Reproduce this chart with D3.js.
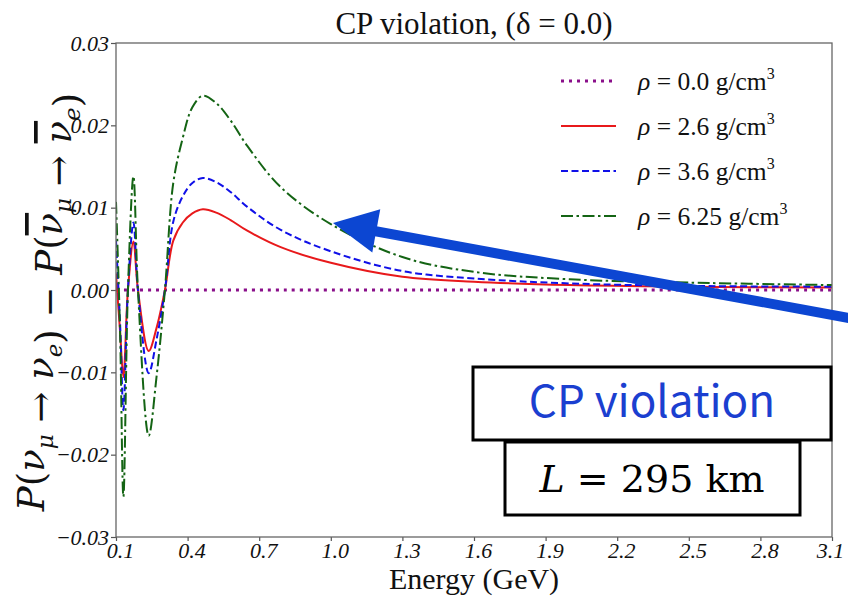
<!DOCTYPE html>
<html>
<head>
<meta charset="utf-8">
<script src="https://cdn.jsdelivr.net/npm/d3@7"></script>
<style>
  body { margin: 0; background: #fff; }
  svg { display: block; }
  .tick text { font-family: "Liberation Serif", serif; font-style: italic; }
</style>
</head>
<body>
<div id="chart"></div>
<script>
const energy = [0.1, 0.117, 0.131, 0.150, 0.173, 0.192, 0.237, 0.27, 0.305, 0.34, 0.38, 0.42, 0.464,
                0.52, 0.58, 0.65, 0.79, 1.0, 1.3, 1.6, 2.0, 2.5, 3.1]

const rho0  = energy.map(() => 0)
const rho26 = [0.0020, -0.0050, -0.0106, 0.0, 0.0059, 0.0, -0.0074, -0.0046, 0.0, 0.0060, 0.0082, 0.0093, 0.0098,
               0.0094, 0.0085, 0.0072, 0.0052, 0.0033, 0.0016, 0.0010, 0.0006, 0.0004, 0.0003]
const rho36 = [0.0060, -0.0040, -0.0146, 0.0, 0.0082, 0.0, -0.0101, -0.0060, 0.0, 0.0083, 0.0114, 0.0130, 0.0136,
               0.0131, 0.0119, 0.0101, 0.0073, 0.0047, 0.0023, 0.0014, 0.0008, 0.0005, 0.0004]
const rho625 = [0.0107, -0.0050, -0.0251, 0.0, 0.0138, 0.0, -0.0177, -0.0105, 0.0, 0.0130, 0.0185, 0.0222, 0.0236,
                0.0227, 0.0206, 0.0175, 0.0125, 0.0080, 0.0040, 0.0022, 0.0013, 0.0009, 0.0006]

const seriesLabels = ["0.0", "2.6", "3.6", "6.25"]
const xTicks = [0.1, 0.4, 0.7, 1.0, 1.3, 1.6, 1.9, 2.2, 2.5, 2.8, 3.1]
const yTicks = [-0.03, -0.02, -0.01, 0.0, 0.01, 0.02, 0.03]

const series = [
    {label: seriesLabels[0], values: rho0,   color: "#8a0f8a", dash: "3,5",            width: 3},
    {label: seriesLabels[1], values: rho26,  color: "#e8191b", dash: null,             width: 2},
    {label: seriesLabels[2], values: rho36,  color: "#1010e8", dash: "7,3.5",          width: 2},
    {label: seriesLabels[3], values: rho625, color: "#146414", dash: "12,3.5,2.5,3.5", width: 2}
]

const W = 848, H = 600
const margin = {top: 43, right: 16, bottom: 63, left: 116}
const width = W - margin.left - margin.right
const height = H - margin.top - margin.bottom

const xScale = d3.scaleLinear().domain([0.1, 3.1]).range([0, width])
const yScale = d3.scaleLinear().domain([-0.03, 0.03]).range([height, 0])

const root = d3.select("#chart").append("svg")
    .attr("width", W)
    .attr("height", H)

const svg = root.append("g")
    .attr("transform", `translate(${margin.left}, ${margin.top})`)

svg.append("defs").append("clipPath")
    .attr("id", "clip")
    .append("rect")
        .attr("width", width)
        .attr("height", height)

// axes
const xAxis = svg.append("g")
    .attr("transform", `translate(0, ${height})`)
    .call(d3.axisBottom(xScale).tickValues(xTicks).tickSize(4).tickPadding(1).tickFormat(d3.format(".1f")))

const yAxis = svg.append("g")
    .call(d3.axisLeft(yScale).tickValues(yTicks).tickSize(5).tickPadding(2).tickFormat(d3.format(".2f")))

xAxis.selectAll("text").attr("font-size", 22).attr("fill", "#111").attr("dx", (d, i) => i === xTicks.length - 1 ? -2 : 4)
yAxis.selectAll("text").attr("font-size", 22).attr("fill", "#111")
svg.selectAll(".domain").remove()
svg.selectAll(".tick line").attr("stroke", "#555").attr("stroke-width", 1.2)

// curves
const line = d3.line()
    .x((d, i) => xScale(energy[i]))
    .y(d => yScale(d))
    .curve(d3.curveCatmullRom.alpha(0.5))

svg.append("g")
    .attr("clip-path", "url(#clip)")
    .selectAll("path")
    .data(series)
    .join("path")
        .attr("fill", "none")
        .attr("stroke", d => d.color)
        .attr("stroke-width", d => d.width)
        .attr("stroke-dasharray", d => d.dash)
        .attr("d", d => line(d.values))

// frame
svg.append("rect")
    .attr("width", width)
    .attr("height", height)
    .attr("fill", "none")
    .attr("stroke", "#666")
    .attr("stroke-width", 1.3)

// legend
const legend = svg.append("g")
    .attr("transform", `translate(${561 - margin.left}, ${81 - margin.top})`)

const rows = legend.selectAll("g")
    .data(series)
    .join("g")
        .attr("transform", (d, i) => `translate(0, ${i * 45})`)

rows.append("line")
    .attr("x1", 0).attr("x2", 55)
    .attr("stroke", d => d.color)
    .attr("stroke-width", d => d.width)
    .attr("stroke-dasharray", d => d.dash)

const lt = rows.append("text")
    .attr("x", 77)
    .attr("y", 9)
    .attr("font-family", "Liberation Serif, serif")
    .attr("font-size", 25.5)
    .attr("fill", "#111")
lt.append("tspan").attr("font-style", "italic").text("ρ")
lt.append("tspan").text(d => ` = ${d.label} g/cm`)
lt.append("tspan").attr("font-size", 16).attr("dy", -11).text("3")

// title and axis labels
root.append("text")
    .attr("x", margin.left + width / 2)
    .attr("y", 34)
    .attr("text-anchor", "middle")
    .attr("font-family", "Liberation Serif, serif")
    .attr("font-size", 31)
    .attr("fill", "#111")
    .text("CP violation,  (δ = 0.0)")

root.append("text")
    .attr("x", margin.left + width / 2)
    .attr("y", 589)
    .attr("text-anchor", "middle")
    .attr("font-family", "Liberation Serif, serif")
    .attr("font-size", 30)
    .attr("fill", "#111")
    .text("Energy (GeV)")

const yl = root.append("text")
    .attr("transform", `translate(44, ${margin.top + height / 2 + 12}) rotate(-90)`)
    .attr("text-anchor", "middle")
    .attr("font-family", "DejaVu Serif, serif")
    .attr("font-size", 37)
    .attr("fill", "#111")
const part = (t, italic, bar) => yl.append("tspan")
    .attr("font-style", italic ? "italic" : null)
    .style("text-decoration", bar ? "overline" : null)
    .text(t)
const sub = t => { yl.append("tspan").attr("font-size", 23).attr("dy", 9).attr("font-style", "italic").text(t); yl.append("tspan").attr("dy", -9).text("") }
part("P", true); part("(", false); part("ν", true); sub("μ"); part(" → ", false); part("ν", true); sub("e")
part(") − ", false); part("P", true); part("(", false); part("ν", true, true); sub("μ"); part(" → ", false)
part("ν", true, true); sub("e"); part(")", false)

// annotation arrow
const blue = "#0c46d2"
const tip = [333, 223], tail = [860, 320]
const ang = Math.atan2(tail[1] - tip[1], tail[0] - tip[0])
const headLen = 44, headW = 22
const bx = tip[0] + headLen * Math.cos(ang), by = tip[1] + headLen * Math.sin(ang)
root.append("line")
    .attr("x1", bx - 2).attr("y1", by)
    .attr("x2", tail[0]).attr("y2", tail[1])
    .attr("stroke", blue)
    .attr("stroke-width", 10)
root.append("path")
    .attr("d", `M${tip[0]},${tip[1]} L${bx - headW * Math.sin(ang)},${by + headW * Math.cos(ang)} L${bx + headW * Math.sin(ang)},${by - headW * Math.cos(ang)} Z`)
    .attr("fill", blue)

// text boxes
root.append("rect")
    .attr("x", 473).attr("y", 367).attr("width", 358).attr("height", 73)
    .attr("fill", "#fff").attr("stroke", "#000").attr("stroke-width", 3)
root.append("text")
    .attr("x", 652).attr("y", 417)
    .attr("text-anchor", "middle")
    .attr("font-family", "Noto Sans CJK JP, Noto Sans, sans-serif")
    .attr("font-size", 44)
    .attr("fill", "#1b3fd0")
    .text("CP violation")

root.append("rect")
    .attr("x", 505).attr("y", 442).attr("width", 295).attr("height", 73)
    .attr("fill", "#fff").attr("stroke", "#000").attr("stroke-width", 3)
const lk = root.append("text")
    .attr("x", 652).attr("y", 492)
    .attr("text-anchor", "middle")
    .attr("font-family", "DejaVu Serif, serif")
    .attr("font-size", 38)
    .attr("fill", "#000")
lk.append("tspan").attr("font-style", "italic").text("L")
lk.append("tspan").text(" = 295 km")
</script>
</body>
</html>
